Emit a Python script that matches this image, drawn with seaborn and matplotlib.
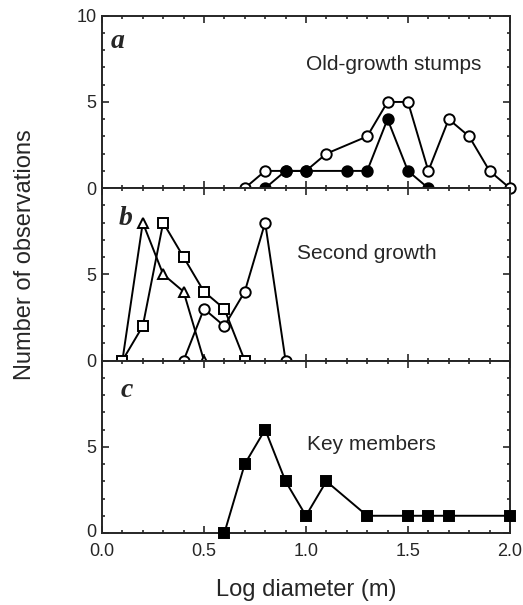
# Size distributions: old-growth stumps, second growth, key members
import matplotlib
matplotlib.use('Agg')
import matplotlib.pyplot as plt
from matplotlib.ticker import MultipleLocator
from matplotlib.transforms import ScaledTranslation
import seaborn as sns

# panel a - old-growth stumps
old_open_x = [0.7, 0.8, 0.9, 1.0, 1.1, 1.3, 1.4, 1.5, 1.6, 1.7, 1.8, 1.9, 2.0]
old_open_y = [0, 1, 1, 1, 2, 3, 5, 5, 1, 4, 3, 1, 0]
old_fill_x = [0.8, 0.9, 1.0, 1.2, 1.3, 1.4, 1.5, 1.6]
old_fill_y = [0, 1, 1, 1, 1, 4, 1, 0]

# panel b - second growth
sec_tri_x = [0.1, 0.2, 0.3, 0.4, 0.5]
sec_tri_y = [0, 8, 5, 4, 0]
sec_sq_x = [0.1, 0.2, 0.3, 0.4, 0.5, 0.6, 0.7]
sec_sq_y = [0, 2, 8, 6, 4, 3, 0]
sec_circ_x = [0.4, 0.5, 0.6, 0.7, 0.8, 0.9]
sec_circ_y = [0, 3, 2, 4, 8, 0]

# panel c - key members
key_x = [0.6, 0.7, 0.8, 0.9, 1.0, 1.1, 1.3, 1.5, 1.6, 1.7, 2.0]
key_y = [0, 4, 6, 3, 1, 3, 1, 1, 1, 1, 1]

x_ticks = [0.0, 0.5, 1.0, 1.5, 2.0]

sns.set_style('ticks')
plt.rcParams['font.family'] = ['Liberation Sans', 'DejaVu Sans']

fig, axes = plt.subplots(3, 1, figsize=(5.23, 6.05), dpi=100, sharex=True,
                         gridspec_kw=dict(hspace=0))
fig.subplots_adjust(left=0.195, right=0.975, top=0.974, bottom=0.119)


def series(ax, x, y, marker, face, ms=7.5):
    sns.lineplot(x=x, y=y, ax=ax, color='black', lw=1.4, marker=marker,
                 markersize=ms, markerfacecolor=face, markeredgecolor='black',
                 markeredgewidth=1.4, clip_on=False, zorder=3)


series(axes[0], old_open_x, old_open_y, 'o', 'white')
series(axes[0], old_fill_x, old_fill_y, 'o', 'black')
series(axes[1], sec_tri_x, sec_tri_y, '^', 'white', 7.5)
series(axes[1], sec_sq_x, sec_sq_y, 's', 'white', 7)
series(axes[1], sec_circ_x, sec_circ_y, 'o', 'white')
series(axes[2], key_x, key_y, 's', 'black', 7.5)

letters = ['a', 'b', 'c']
letter_pos = [(0.045, 8.1), (0.08, 7.85), (0.09, 7.9)]
titles = ['Old-growth stumps', 'Second growth', 'Key members']
title_pos = [(1.43, 7.2), (1.3, 6.2), (1.32, 5.15)]

for i, ax in enumerate(axes):
    ax.set_xlim(0, 2)
    ax.set_ylim(0, 10)
    if i == 0:
        ax.set_yticks([0, 5, 10], labels=['0', '5', '10'])
    else:
        ax.set_yticks([0, 5, 10], labels=['0', '5', ''])
    ax.yaxis.set_minor_locator(MultipleLocator(1))
    ax.xaxis.set_major_locator(MultipleLocator(0.5))
    ax.xaxis.set_minor_locator(MultipleLocator(0.1))
    ax.tick_params(which='both', direction='in', top=True, right=True,
                   width=1.2, labelsize=13, pad=4)
    ax.tick_params(which='major', length=5)
    ax.tick_params(which='minor', length=2.5)
    for s in ax.spines.values():
        s.set_linewidth(1.4)
    ax.set_ylabel('')
    ax.text(*letter_pos[i], letters[i], family='Liberation Serif',
            style='italic', fontweight='bold', fontsize=20, va='baseline')
    ax.text(*title_pos[i], titles[i], fontsize=15, ha='center', va='center')

axes[2].set_xticks(x_ticks, labels=['%.1f' % v for v in x_ticks])
axes[2].tick_params(axis='x', pad=7)
axes[2].set_xlabel('Log diameter (m)', fontsize=17, labelpad=14)
fig.text(0.048, 0.579, 'Number of observations', rotation=90, fontsize=17,
         ha='center', va='center')

# lift the bottom "0" a little so it sits above the "0.0"
fig.canvas.draw()
zero = axes[2].get_yticklabels()[0]
zero.set_transform(zero.get_transform()
                   + ScaledTranslation(0, 2 / 72, fig.dpi_scale_trans))

fig.savefig('out.png', dpi=100)
